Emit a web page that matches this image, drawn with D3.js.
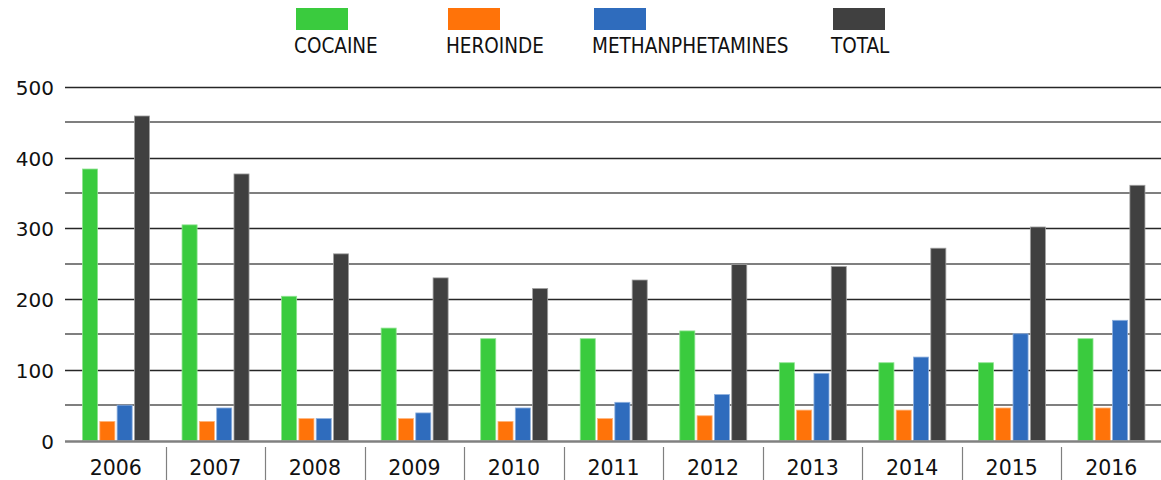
<!DOCTYPE html>
<html>
<head>
<meta charset="utf-8">
<script src="https://cdn.jsdelivr.net/npm/d3@7"></script>
<style>
  body { margin: 0; background: #fff; }
  svg { display: block; }
</style>
</head>
<body>
<div id="chart"></div>
<script>
const years = ['2006', '2007', '2008', '2009', '2010', '2011', '2012', '2013', '2014', '2015', '2016'];
const series = ['COCAINE', 'HEROINDE', 'METHANPHETAMINES', 'TOTAL'];
const cocaine = [384, 305, 204, 159, 144, 144, 155, 110, 110, 110, 144];
const heroinde = [27, 27, 31, 31, 27, 31, 35, 43, 43, 46, 46];
const meth = [50, 46, 31, 39, 46, 54, 65, 95, 118, 151, 170];
const total = [459, 377, 264, 230, 215, 227, 249, 246, 272, 302, 361];
const yTicks = [0, 100, 200, 300, 400, 500];

const colors = ['#3acb3e', '#ff7309', '#2f6cbd', '#404040'];
const strokes = ['#8fe391', '#ffb57d', '#8eb0de', '#a0a0a0'];
// legend x positions
const legendX = [296, 448, 594, 833];

const width = 1161;
const height = 480;
const margin = {top: 87, right: -1, bottom: 39, left: 65};

const svg = d3.select('#chart')
  .append('svg')
  .attr('width', width)
  .attr('height', height);

const rows = years.map((y, i) => ({
  year: y,
  values: [cocaine[i], heroinde[i], meth[i], total[i]]
}));

const yScale = d3.scaleLinear()
  .domain([0, 500])
  .range([height - margin.bottom - 0.5, margin.top]);

const x0 = d3.scaleBand()
  .domain(years)
  .range([67, 1162]);

const x1 = d3.scaleBand()
  .domain(series)
  .range([15.5, 82.5])
  .paddingInner(0.13);

// grid lines: dark on hundreds, grey on fifties
const grid = svg.append('g');
d3.range(50, 501, 50).forEach(v => {
  const major = v % 100 === 0;
  grid.append('line')
    .attr('x1', margin.left)
    .attr('x2', width)
    .attr('y1', Math.round(yScale(v)) + (major ? 0.5 : 0))
    .attr('y2', Math.round(yScale(v)) + (major ? 0.5 : 0))
    .attr('stroke', major ? '#262626' : '#7f7f7f')
    .attr('stroke-width', major ? 1.3 : 2);
});

// y labels
svg.append('g')
  .selectAll('text')
  .data(yTicks)
  .enter().append('text')
    .attr('x', 54)
    .attr('y', d => yScale(d) + 8)
    .attr('text-anchor', 'end')
    .attr('font-family', 'DejaVu Sans')
    .attr('font-size', 20)
    .attr('fill', '#111')
    .text(d => d);

// bars
const groups = svg.append('g')
  .selectAll('g')
  .data(rows)
  .enter().append('g')
    .attr('transform', d => 'translate(' + x0(d.year) + ',0)');

groups.selectAll('rect')
  .data(d => d.values.map((v, i) => ({key: series[i], value: v, i: i})))
  .enter().append('rect')
    .attr('x', d => x1(d.key))
    .attr('y', d => yScale(d.value))
    .attr('width', x1.bandwidth())
    .attr('height', d => yScale(0) - yScale(d.value))
    .attr('fill', d => colors[d.i])
    .attr('stroke', d => strokes[d.i])
    .attr('stroke-width', 0.8);

// x axis line
svg.append('line')
  .attr('x1', margin.left)
  .attr('x2', width)
  .attr('y1', yScale(0) + 1)
  .attr('y2', yScale(0) + 1)
  .attr('stroke', '#808080')
  .attr('stroke-width', 2.5);

// category dividers
svg.append('g')
  .selectAll('line')
  .data(years.slice(1))
  .enter().append('line')
    .attr('x1', d => Math.round(x0(d)) - 0.5)
    .attr('x2', d => Math.round(x0(d)) - 0.5)
    .attr('y1', 447)
    .attr('y2', 480)
    .attr('stroke', '#808080')
    .attr('stroke-width', 1.2);

// year labels
svg.append('g')
  .selectAll('text')
  .data(years)
  .enter().append('text')
    .attr('x', d => x0(d) + x0.bandwidth() / 2 - 1)
    .attr('y', 475)
    .attr('text-anchor', 'middle')
    .attr('font-family', 'DejaVu Sans')
    .attr('font-size', 20.5)
    .attr('fill', '#111')
    .text(d => d);

// legend
const legend = svg.append('g')
  .selectAll('g')
  .data(series)
  .enter().append('g')
    .attr('transform', (d, i) => 'translate(' + legendX[i] + ',0)');

legend.append('rect')
  .attr('x', 0)
  .attr('y', 8)
  .attr('width', 52)
  .attr('height', 22)
  .attr('fill', (d, i) => colors[i]);

legend.append('text')
  .attr('x', -2)
  .attr('y', 53)
  .attr('font-family', 'DejaVu Sans Condensed, DejaVu Sans')
  .attr('font-stretch', 'condensed')
  .attr('font-size', 20.5)
  .attr('fill', '#111')
  .text(d => d);
</script>
</body>
</html>
